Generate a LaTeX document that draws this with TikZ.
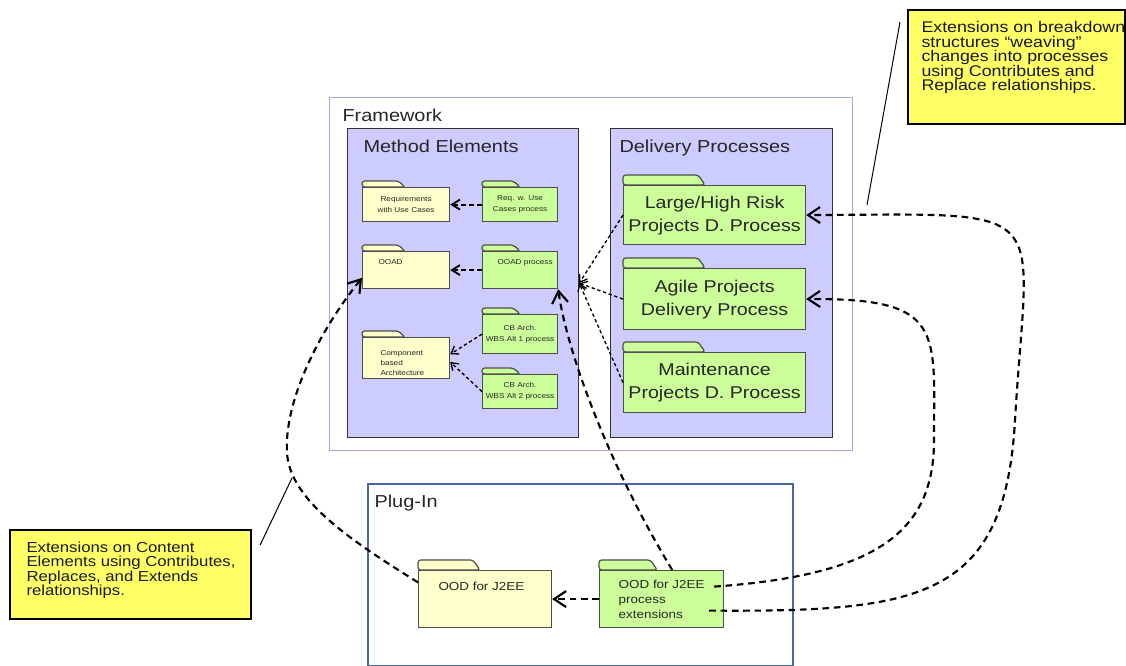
\documentclass[tikz,border=0pt]{standalone}
\usepackage{fontspec}
\setmainfont[FakeStretch=1.15]{Liberation Sans}
\usetikzlibrary{arrows.meta,calc}

\definecolor{yelfold}{RGB}{255,255,204}
\definecolor{grnfold}{RGB}{204,255,153}
\definecolor{lavpkg}{RGB}{204,204,255}
\definecolor{notefill}{RGB}{255,255,102}
\definecolor{fwline}{RGB}{160,170,222}
\definecolor{plugline}{RGB}{72,102,168}

\tikzset{every picture/.style={line width=0.75pt}}
\tikzset{
  pkgbox/.style={draw=black!80, fill=lavpkg, line width=0.9pt, anchor=north west, inner sep=0pt},
  outerbox/.style={draw=#1, anchor=north west, inner sep=0pt},
  folder/.style={draw=black!70, fill=#1, line width=0.9pt, anchor=north west, inner sep=0pt, align=center, text=black!85},
  foldtab/.style={draw=black!70, fill=#1, line width=0.9pt, rounded corners=2pt},
  notebox/.style={draw=black, fill=notefill, line width=1.6pt, anchor=north west, inner sep=0pt},
  headtxt/.style={font=\fontsize{13}{15.6}\selectfont, text=black!85, inner sep=0pt, anchor=base west},
  bigtxt/.style={font=\fontsize{12.8}{17.25}\selectfont},
  smalltxt/.style={font=\fontsize{5.35}{8.25}\selectfont},
  plugtxt/.style={font=\fontsize{8.75}{11.25}\selectfont},
  notetxt/.style={font=\fontsize{#1}{10.9}\selectfont, align=left, inner sep=0pt, anchor=north west, text=black!90},
  bigdep/.style={line width=1.6pt, dash pattern=on 5pt off 3.5pt, -{Straight Barb[length=9pt,width=12pt]}},
  smalldep/.style={line width=1.4pt, dash pattern=on 3.5pt off 2.5pt, -{Straight Barb[length=6pt,width=7.5pt]}},
  thindep/.style={line width=1pt, dash pattern=on 2.5pt off 2pt, -{Straight Barb[length=5pt,width=7pt]}},
}

\begin{document}
\begin{tikzpicture}[x=0.75pt,y=0.75pt,yscale=-1,xscale=1]
\useasboundingbox (0,0) rectangle (1126,666);

% packages
\node[outerbox=fwline, line width=1pt, minimum width=392.25pt, minimum height=264.75pt] (fw) at (329,97) {};
\node[pkgbox, minimum width=173.25pt, minimum height=231.75pt] (meth) at (347,128) {};
\node[pkgbox, minimum width=166.5pt, minimum height=231.75pt] (deliv) at (610,128) {};
\node[outerbox=plugline, line width=1.5pt, minimum width=318.75pt, minimum height=136.5pt] (plug) at (367,483) {};

\node[headtxt] (fwlbl) at (342,122) {Framework};
\node[headtxt] (methlbl) at (363,153) {Method Elements};
\node[headtxt] (delivlbl) at (619,153) {Delivery Processes};
\node[headtxt] (pluglbl) at (374,507) {Plug-In};

% method elements
\node[folder=yelfold, smalltxt, minimum width=65.25pt, minimum height=25.5pt] (req) at (362,187) {Requirements\\with Use Cases};
\node[folder=grnfold, smalltxt, minimum width=56.25pt, minimum height=25.5pt] (rproc) at (482,187) {Req. w. Use\\Cases process};
\node[folder=yelfold, minimum width=65.25pt, minimum height=27.75pt] (ooad) at (362,251) {};
\node[folder=grnfold, minimum width=56.25pt, minimum height=27.75pt] (oproc) at (482,251) {};
\node[folder=yelfold, minimum width=65.25pt, minimum height=30.75pt] (comp) at (362,337) {};
\node[folder=grnfold, smalltxt, minimum width=56.25pt, minimum height=29.25pt] (alt1) at (482,314) {CB Arch.\\WBS Alt 1 process};
\node[folder=grnfold, smalltxt, minimum width=56.25pt, minimum height=25.5pt] (alt2) at (482,374) {CB Arch.\\WBS Alt 2 process};

% delivery processes
\node[folder=grnfold, bigtxt, minimum width=136.5pt, minimum height=44.25pt] (large) at (623,185) {Large/High Risk\\Projects D. Process};
\node[folder=grnfold, bigtxt, minimum width=136.5pt, minimum height=45.75pt] (agile) at (623,268) {Agile Projects\\Delivery Process};
\node[folder=grnfold, bigtxt, minimum width=136.5pt, minimum height=45pt] (maint) at (623,352) {Maintenance\\Projects D. Process};

% plug-in
\node[folder=yelfold, minimum width=99.75pt, minimum height=42.75pt] (ood) at (418,570) {};
\node[folder=grnfold, plugtxt, align=left, minimum width=93pt, minimum height=42.75pt] (ext) at (599,570) {OOD for J2EE\\process\\extensions};

% folder tabs
\foreach \f/\c/\h in {req/yelfold/6, ooad/yelfold/6, comp/yelfold/6, rproc/grnfold/6, oproc/grnfold/6, alt1/grnfold/6, alt2/grnfold/6, large/grnfold/10, agile/grnfold/10, maint/grnfold/10, ood/yelfold/10, ext/grnfold/10}
  \draw[foldtab=\c] (\f.north west) -- ++(0,-\h) -- ($(\f.north west)!0.41!(\f.north east)+(0,-\h)$) -- ($(\f.north west)!0.41!(\f.north east)+(7,0)$) -- cycle;

% Text Node
\node[smalltxt, text=black!85, inner sep=0pt, anchor=base west] (ooadtxt) at (378,265) {OOAD};
\node[smalltxt, text=black!85, inner sep=0pt, anchor=base west] (oproctxt) at (497,265) {OOAD process};
\node[smalltxt, font=\fontsize{5.35}{7.5}\selectfont, text=black!85, inner sep=0pt, anchor=north west, align=left] (comptxt) at (380,350) {Component\\based\\Architecture};
\node[plugtxt, text=black!85, inner sep=0pt, anchor=base west] (oodtxt) at (438,590) {OOD for J2EE};

% notes
\node[notebox, minimum width=162.75pt, minimum height=85.5pt] (noteR) at (907,9) {};
\node[notetxt=11.6] (noteRtxt) at (921,21) {Extensions on breakdown\\structures “weaving”\\changes into processes\\using Contributes and\\Replace relationships.};
\node[notebox, minimum width=180.75pt, minimum height=66.75pt] (noteL) at (9,529) {};
\node[notetxt=10.9] (noteLtxt) at (26,541) {Extensions on Content\\Elements using Contributes,\\Replaces, and Extends\\relationships.};

\coordinate (tipR) at (867,205);
\coordinate (tipL) at (292,478);
\coordinate (exta) at ($(ext.east)+(-10,-12.5)$);
\coordinate (extb) at ($(ext.east)+(-15,11.5)$);

% dependencies inside method elements
\draw[smalldep] (rproc) -- (req);
\draw[smalldep] (oproc) -- (ooad);
\draw[thindep] (alt1.west) -- (comp.5);
\draw[thindep] (alt2.west) -- (comp.-5);

% delivery processes to method elements
\draw[thindep] (large.west) -- (meth.east);
\draw[thindep] (agile.west) -- (meth.east);
\draw[thindep] (maint.west) -- (meth.east);

% plug-in extensions
\draw[bigdep] (ext) -- (ood);
\draw[bigdep] (ext.70) .. controls (600,450) and (565,340) .. (oproc.south east);
\draw[bigdep] (ood.166) .. controls (350,540) and (290,500) .. (287,453) .. controls (284,400) and (320,330) .. (ooad.190);
\draw[bigdep] (exta) .. controls (880,575) and (934,530) .. (934,440) .. controls (934,330) and (945,298) .. (agile.east);
\draw[bigdep] (extb) .. controls (920,612) and (1005,600) .. (1015,420) .. controls (1028,200) and (1060,214) .. (large.east);

% callout leaders
\draw ($(noteR.north west)+(-7,13)$) -- (tipR);
\draw ($(noteL.north east)+(8,16)$) -- (tipL);
\end{tikzpicture}
\end{document}
